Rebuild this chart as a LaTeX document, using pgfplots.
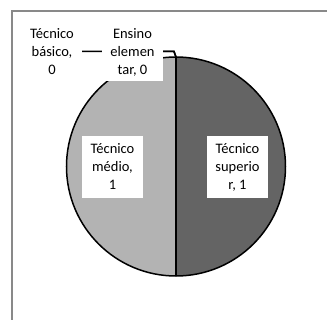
\documentclass[border=0pt]{standalone}
\usepackage{pgfplots}
\pgfplotsset{compat=1.18}
\usepackage{pgfplotstable}
\usepackage{fontspec}
\setmainfont{Carlito}
\definecolor{darkslice}{HTML}{646464}
\definecolor{lightslice}{HTML}{B3B3B3}
\definecolor{framecol}{HTML}{898989}

\pgfplotstableread[col sep=comma]{
label,value
Técnico superior,1
Técnico médio,1
Técnico básico,0
Ensino elementar,0
}\piedata

\begin{document}
\begin{tikzpicture}
\path[use as bounding box] (0,0) rectangle (327bp,320bp);
\pgfplotstablegetelem{0}{value}\of\piedata \edef\vA{\pgfplotsretval}
\pgfplotstablegetelem{1}{value}\of\piedata \edef\vB{\pgfplotsretval}
\pgfplotstablegetelem{2}{value}\of\piedata \edef\vC{\pgfplotsretval}
\pgfplotstablegetelem{3}{value}\of\piedata \edef\vD{\pgfplotsretval}
\pgfmathsetmacro{\tot}{\vA+\vB+\vC+\vD}
\pgfmathsetmacro{\aA}{90-360*\vA/\tot}
\pgfmathsetmacro{\aB}{\aA-360*\vB/\tot}
\begin{axis}[at={(0,0)},anchor=south west, x=1bp,y=1bp,
  xmin=0,xmax=327,ymin=0,ymax=320, hide axis, scale only axis, clip=false]
% frame
\draw[framecol, line width=2bp] (axis cs:12,-10) -- (axis cs:12,309) -- (axis cs:340,309);
% slices
\fill[darkslice] (axis cs:176,153.5) -- ++(90:109.5bp) arc[start angle=90,end angle=\aA,radius=109.5bp] -- cycle;
\fill[lightslice] (axis cs:176,153.5) -- ++(\aA:109.5bp) arc[start angle=\aA,end angle=\aB,radius=109.5bp] -- cycle;
\draw[black, line width=1.5bp] (axis cs:176,153.5) circle[radius=109.5bp];
\draw[black, line width=1.5bp] (axis cs:176,153.5) -- ++(90:109.5bp);
\draw[black, line width=1.5bp] (axis cs:176,153.5) -- ++(\aA:109.5bp);
% leader lines
\draw[black, line width=1.5bp] (axis cs:82,268.5) -- (axis cs:174,268.5) -- (axis cs:176,263);
\node[fill=white, align=center, inner sep=0pt, minimum width=61bp, minimum height=58bp,
  font=\fontsize{14.5bp}{18bp}\selectfont] at (axis cs:132.5,268) {Ensino\\elemen\\tar, 0};
\draw[black, line width=1.5bp] (axis cs:163,268.5) -- (axis cs:174,268.5) -- (axis cs:176,263);
% labels
\node[fill=white, align=center, inner sep=0pt, minimum width=60bp, minimum height=58bp,
  font=\fontsize{14.5bp}{18bp}\selectfont] at (axis cs:52,268) {Técnico\\básico,\\0};
\node[fill=white, align=center, inner sep=0pt, minimum width=61bp, minimum height=62bp,
  font=\fontsize{14.5bp}{18bp}\selectfont] at (axis cs:112.5,153) {Técnico\\médio,\\1};
\node[fill=white, align=center, inner sep=0pt, minimum width=61bp, minimum height=62bp,
  font=\fontsize{14.5bp}{18bp}\selectfont] at (axis cs:237.5,153) {Técnico\\superio\\r, 1};
\end{axis}
\end{tikzpicture}
\end{document}
